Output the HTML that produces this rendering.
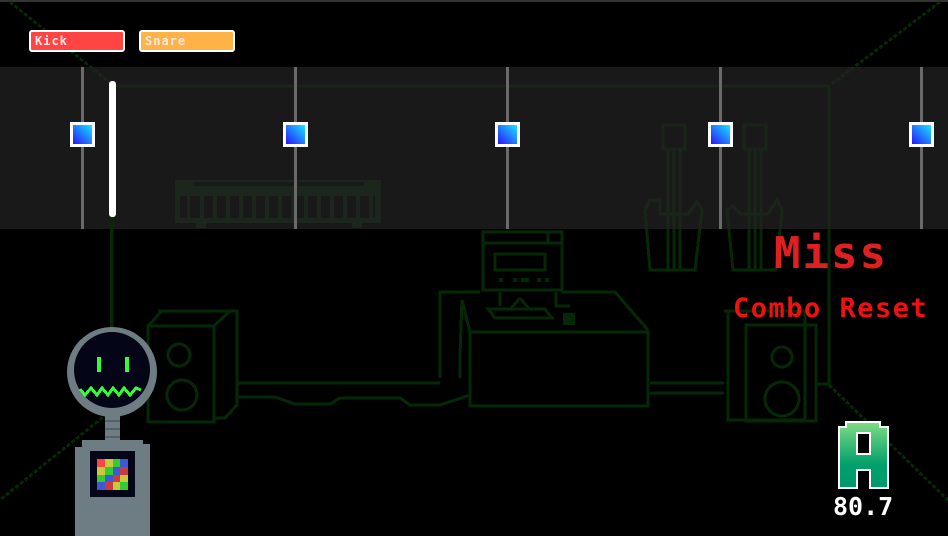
<!DOCTYPE html>
<html><head><meta charset="utf-8"><style>
html,body{margin:0;padding:0;background:#000;}
#c{position:relative;width:948px;height:536px;overflow:hidden;background:#000;font-family:"DejaVu Sans Mono","Liberation Mono",monospace;}
.btn{position:absolute;top:30px;height:22px;border:2px solid #fff;border-radius:3px;box-sizing:border-box;color:#ffe8e8;font-size:12px;line-height:19px;padding-left:4px;font-weight:bold;letter-spacing:1px;}
</style></head><body><div id="c">
<svg width="948" height="536" style="position:absolute;left:0;top:0" shape-rendering="crispEdges">
<defs>
<linearGradient id="sq" x1="0" y1="1" x2="1" y2="0"><stop offset="0" stop-color="#2a14ff"/><stop offset="1" stop-color="#18e6ff"/></linearGradient>
<linearGradient id="ga" x1="0" y1="0" x2="0" y2="1"><stop offset="0" stop-color="#7fdc84"/><stop offset="0.65" stop-color="#00a06c"/><stop offset="1" stop-color="#009a6a"/></linearGradient>
</defs>
<rect x="0" y="0" width="948" height="2" fill="#333"/>
<g stroke="#052805" fill="none" stroke-width="3">
<line x1="10" y1="2" x2="114" y2="86" stroke-dasharray="4 2"/>
<line x1="940" y1="2" x2="829" y2="86" stroke-dasharray="4 2"/>
<line x1="114" y1="86" x2="829" y2="86"/>
<line x1="829" y1="86" x2="829" y2="385"/>
<line x1="112" y1="86" x2="112" y2="330"/>
<line x1="829" y1="385" x2="948" y2="500" stroke-dasharray="4 2"/>
<line x1="112" y1="410" x2="0" y2="500" stroke-dasharray="4 2"/>
<path d="M158 311 H237 V405 L225 418 H215"/>
<rect x="148" y="326" width="66" height="96"/>
<path d="M148 326 L162 311 M214 326 L230 311"/>
<circle cx="179" cy="355" r="11"/>
<circle cx="182" cy="395" r="15"/>
<path d="M724 311 H805 V420 H728 V311"/>
<rect x="746" y="325" width="70" height="96"/>
<circle cx="782" cy="357" r="10"/>
<circle cx="782" cy="399" r="17"/>
<path d="M816 384 H829"/>
<path d="M237 383 H440 M237 397 H275 L295 404 H330 L340 398 H400 L410 405 H440 L470 395"/>
<path d="M650 383 H724 M650 393 H724"/>
<rect x="470" y="332" width="178" height="74"/>
<path d="M440 378 V292 H480 M562 292 H615 L648 330 M462 300 L470 332 M460 378 V355 L462 300"/>
<rect x="483" y="232" width="79" height="58"/>
<path d="M483 243 H562 M548 232 V243"/>
<rect x="495" y="254" width="50" height="16"/>
<path d="M500 292 V306 M556 292 V306 L570 306 M520 298 L510 310 M520 298 L530 310"/>
<path d="M488 309 H545 L552 318 H495 Z"/>
</g>
<rect x="563" y="313" width="12" height="12" fill="#052805"/>
<g fill="#052805"><rect x="499" y="278" width="4" height="4"/><rect x="513" y="278" width="4" height="4"/><rect x="521" y="278" width="8" height="4"/><rect x="537" y="278" width="4" height="4"/><rect x="545" y="278" width="4" height="4"/></g>
<g fill="#0a2e0a">
<path d="M175 180 H381 V223 H175 Z M193 182 H364 V186 H193 Z" fill-rule="evenodd"/>
</g>
<g fill="#000"><rect x="180" y="196" width="195" height="22"/></g>
<g fill="#0a2e0a">
<rect x="187" y="196" width="3" height="22"/><rect x="200" y="196" width="4" height="22"/><rect x="213" y="196" width="4" height="22"/><rect x="226" y="196" width="4" height="22"/><rect x="239" y="196" width="4" height="22"/><rect x="252" y="196" width="4" height="22"/><rect x="265" y="196" width="4" height="22"/><rect x="278" y="196" width="4" height="22"/><rect x="291" y="196" width="4" height="22"/><rect x="304" y="196" width="4" height="22"/><rect x="317" y="196" width="4" height="22"/><rect x="330" y="196" width="4" height="22"/><rect x="343" y="196" width="4" height="22"/><rect x="356" y="196" width="4" height="22"/><rect x="369" y="196" width="4" height="22"/>
<rect x="196" y="223" width="10" height="5"/><rect x="352" y="223" width="10" height="5"/>
</g>
<g stroke="#052805" fill="none" stroke-width="3">
<rect x="663" y="125" width="22" height="24"/><path d="M674 149 V270 M668 149 V270 M680 149 V270 M660 200 L650 200 L645 210 L650 270 H695 L702 210 L697 202 L688 214 H660 Z"/>
<rect x="744" y="125" width="22" height="24"/><path d="M755 149 V270 M749 149 V270 M761 149 V270 M741 214 L733 206 L727 210 L733 270 H776 L782 210 L777 200 L768 214 Z"/>
</g>
<rect x="0" y="67" width="948" height="162" fill="rgba(36,36,36,0.7)"/>
<g fill="#6a6a6a"><rect x="81" y="67" width="3" height="162"/><rect x="294" y="67" width="3" height="162"/><rect x="506" y="67" width="3" height="162"/><rect x="719" y="67" width="3" height="162"/><rect x="920" y="67" width="3" height="162"/></g>
<g>
<rect x="70" y="122" width="25" height="25" fill="#fff"/><rect x="73" y="125" width="19" height="19" fill="url(#sq)"/>
<rect x="283" y="122" width="25" height="25" fill="#fff"/><rect x="286" y="125" width="19" height="19" fill="url(#sq)"/>
<rect x="495" y="122" width="25" height="25" fill="#fff"/><rect x="498" y="125" width="19" height="19" fill="url(#sq)"/>
<rect x="708" y="122" width="25" height="25" fill="#fff"/><rect x="711" y="125" width="19" height="19" fill="url(#sq)"/>
<rect x="909" y="122" width="25" height="25" fill="#fff"/><rect x="912" y="125" width="19" height="19" fill="url(#sq)"/>
</g>
<rect x="109" y="81" width="7" height="136" rx="3" fill="#fff" shape-rendering="auto"/>
<rect x="110" y="217" width="3" height="110" fill="#052805"/>
<g shape-rendering="auto">
<circle cx="112" cy="372" r="45" fill="#6e7c84"/>
<circle cx="112" cy="370" r="38" fill="#050518"/>
</g>
<rect x="97" y="357" width="4" height="15" fill="#3f3"/><rect x="125" y="357" width="4" height="15" fill="#3f3"/>
<polyline points="80,389 85,395 91,388 97,395 102,388 108,395 113,388 119,395 124,388 130,395 136,388 141,390" fill="none" stroke="#3f3" stroke-width="3"/>
<rect x="105" y="413" width="15" height="28" fill="#6e7c84"/>
<g fill="#55616a"><rect x="105" y="420" width="15" height="2"/><rect x="105" y="428" width="15" height="2"/><rect x="105" y="436" width="15" height="2"/></g>
<path d="M82 440 H143 V444 H150 V536 H75 V447 H82 Z" fill="#6e7c84"/>
<rect x="90" y="451" width="45" height="46" fill="#050518"/>
<g>
<rect x="97" y="459" width="8" height="8" fill="#f44"/><rect x="105" y="459" width="8" height="8" fill="#c8c83a"/><rect x="113" y="459" width="7" height="8" fill="#3c3"/><rect x="120" y="459" width="8" height="8" fill="#3c5ad8"/>
<rect x="97" y="467" width="8" height="8" fill="#c8c83a"/><rect x="105" y="467" width="8" height="8" fill="#3c3"/><rect x="113" y="467" width="7" height="8" fill="#3c5ad8"/><rect x="120" y="467" width="8" height="8" fill="#c83c3c"/>
<rect x="97" y="475" width="8" height="7" fill="#3c3"/><rect x="105" y="475" width="8" height="7" fill="#3c5ad8"/><rect x="113" y="475" width="7" height="7" fill="#c83c3c"/><rect x="120" y="475" width="8" height="7" fill="#c8c83a"/>
<rect x="97" y="482" width="8" height="8" fill="#3c5ad8"/><rect x="105" y="482" width="8" height="8" fill="#c83c3c"/><rect x="113" y="482" width="7" height="8" fill="#c8c83a"/><rect x="120" y="482" width="8" height="8" fill="#3c3"/>
</g>
<path d="M846 422 H880 V427 H888 V488 H870 V470 H857 V488 H839 V427 H846 Z" fill="url(#ga)" stroke="#fff" stroke-width="2"/>
<rect x="857" y="433" width="13" height="21" fill="#000" stroke="#fff" stroke-width="2"/>
<g shape-rendering="auto">
<circle cx="107" cy="42" r="8" fill="none" stroke="#fff" stroke-width="1.5"/>
<path d="M107 42 V34 A8 8 0 0 1 110 34.6 Z" fill="#fff"/>
<circle cx="217" cy="42" r="8" fill="none" stroke="#fff" stroke-width="1.5"/>
<path d="M217 42 V34 A8 8 0 0 1 225 42 Z" fill="#fff"/>
</g>
</svg>
<div class="btn" style="left:29px;width:96px;background:#f44;">Kick</div>
<div class="btn" style="left:139px;width:96px;background:#ffb347;">Snare</div>
<div style="position:absolute;left:774px;top:232px;font-size:44px;font-weight:bold;color:#e02020;letter-spacing:2px;line-height:44px;">Miss</div>
<div style="position:absolute;left:733px;top:294px;font-size:27px;font-weight:bold;color:#f01010;line-height:30px;letter-spacing:1.5px;">Combo Reset</div>
<div style="position:absolute;left:833px;top:493px;font-size:25px;font-weight:bold;color:#fff;line-height:28px;">80.7</div>
</div></body></html>
